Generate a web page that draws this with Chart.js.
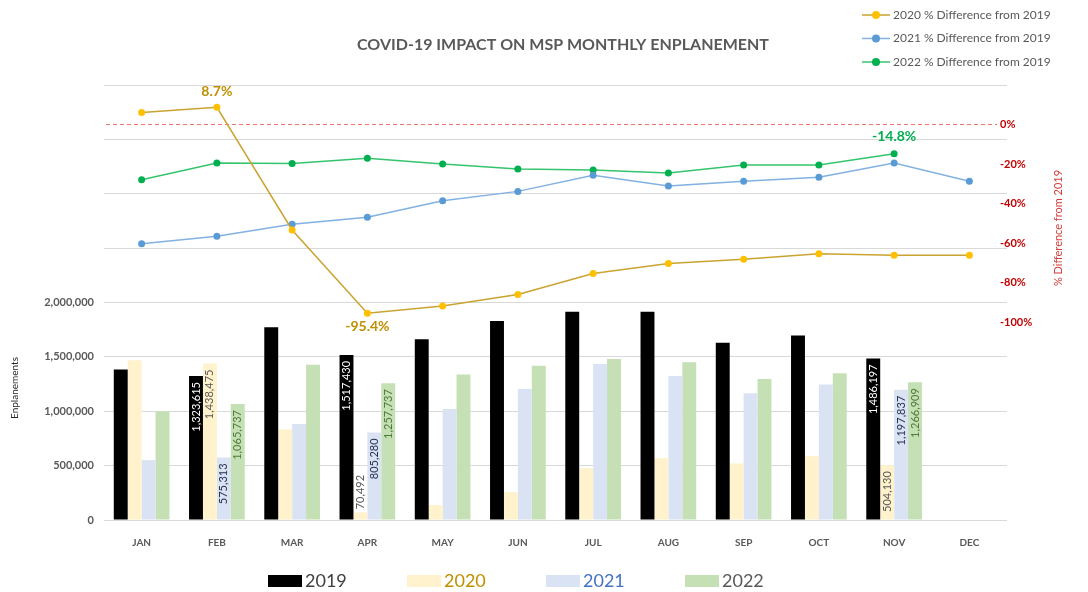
<!DOCTYPE html>
<html>
<head>
<meta charset="utf-8">
<script src="https://cdn.jsdelivr.net/npm/chart.js@4.4.1/dist/chart.umd.min.js"></script>
<style>
  html, body { margin: 0; padding: 0; background: #fff; }
  #wrap { position: relative; width: 1088px; height: 592px; }
</style>
</head>
<body>
<div id="wrap"><canvas id="grafico" width="1088" height="592"></canvas></div>
<script>
// months on the x axis
const months = ['JAN', 'FEB', 'MAR', 'APR', 'MAY', 'JUN', 'JUL', 'AUG', 'SEP', 'OCT', 'NOV', 'DEC'];

// monthly enplanements (bars, left axis)
const enpl2019 = [1385000, 1323615, 1773000, 1517430, 1661000, 1829000, 1915000, 1915000, 1630000, 1697000, 1486197, null];
const enpl2020 = [1468000, 1438475, 832000, 70492, 137000, 257000, 477000, 569000, 520000, 587000, 504130, null];
const enpl2021 = [550000, 575313, 883000, 805280, 1021000, 1205000, 1434000, 1324000, 1165000, 1245000, 1197837, null];
const enpl2022 = [1000000, 1065737, 1428000, 1257737, 1337000, 1419000, 1480000, 1450000, 1296000, 1349000, 1266909, null];

// % difference from 2019 (lines, right axis)
const pct2020 = [6.1, 8.7, -53.3, -95.4, -91.8, -86.0, -75.3, -70.3, -68.1, -65.4, -66.1, -66.1];
const pct2021 = [-60.3, -56.5, -50.4, -46.9, -38.5, -33.8, -25.7, -31.1, -28.7, -26.7, -19.4, -28.7];
const pct2022 = [-27.9, -19.5, -19.7, -17.1, -19.9, -22.5, -23.0, -24.5, -20.5, -20.5, -14.8, null];

// axis ranges and the part of each axis that carries labels
const leftMax = 4000000, leftStep = 500000, leftLabelMax = 2000000;
const rightMin = -200, rightMax = 20, rightStep = 20;
const rightLabelRange = [-100, 0];

// months whose bars carry value labels
const labeledMonths = ['FEB', 'APR', 'NOV'];

const FONT = 'Lato, "Open Sans", sans-serif';
const GRAY = '#595959';

const barColors = ['#000000', '#fff2cc', '#dae3f3', '#c5e0b4'];
const barLabelColors = ['#ffffff', '#595959', '#1f2d4d', '#4e7a3a'];
const barLegendText = ['#404040', '#bf9000', '#4472c4', '#595959'];

const callouts = [
    { ds: 4, month: 'FEB', dy: -16, color: '#bf9000' },
    { ds: 4, month: 'APR', dy: 13, color: '#bf9000' },
    { ds: 6, month: 'NOV', dy: -17, color: '#00b050' }
];

const extras = {
    id: 'extras',
    beforeDatasetsDraw(chart) {
        const { ctx, chartArea } = chart;
        const y0 = chart.scales.y1.getPixelForValue(0);
        ctx.save();
        ctx.strokeStyle = '#f07070';
        ctx.lineWidth = 1;
        ctx.setLineDash([4, 3]);
        ctx.beginPath();
        ctx.moveTo(chartArea.left + 2, y0);
        ctx.lineTo(chartArea.right - 10, y0);
        ctx.stroke();
        ctx.restore();
    },
    afterDatasetsDraw(chart) {
        const ctx = chart.ctx;
        ctx.save();
        // bar value labels, rotated
        ctx.font = '11px ' + FONT;
        ctx.textBaseline = 'middle';
        for (let d = 0; d < 4; d++) {
            const meta = chart.getDatasetMeta(d);
            const data = chart.data.datasets[d].data;
            labeledMonths.forEach(function (m) {
                const i = months.indexOf(m);
                const el = meta.data[i];
                const v = data[i];
                if (v == null) return;
                const text = v.toLocaleString('en-US');
                const w = ctx.measureText(text).width;
                const h = el.base - el.y;
                ctx.save();
                ctx.translate(el.x, el.y);
                ctx.rotate(-Math.PI / 2);
                if (w + 10 < h) {
                    ctx.fillStyle = barLabelColors[d];
                    ctx.textAlign = 'right';
                    ctx.fillText(text, -6, 0);
                } else {
                    ctx.fillStyle = '#595959';
                    ctx.textAlign = 'left';
                    ctx.fillText(text, 3, 0);
                }
                ctx.restore();
            });
        }
        // line callouts
        ctx.font = 'bold 14px ' + FONT;
        ctx.textAlign = 'center';
        callouts.forEach(function (c) {
            const i = months.indexOf(c.month);
            const el = chart.getDatasetMeta(c.ds).data[i];
            const v = chart.data.datasets[c.ds].data[i];
            ctx.fillStyle = c.color;
            ctx.fillText(v.toFixed(1) + '%', el.x, el.y + c.dy);
        });
        ctx.restore();
    },
    afterDraw(chart) {
        const ctx = chart.ctx;
        const ds = chart.data.datasets;
        ctx.save();
        // title
        ctx.font = 'bold 16px ' + FONT;
        ctx.fillStyle = GRAY;
        ctx.textAlign = 'center';
        ctx.textBaseline = 'middle';
        ctx.fillText('COVID-19 IMPACT ON MSP MONTHLY ENPLANEMENT', 563, 45);

        // right axis tick labels, placed from the y1 scale
        const y1 = chart.scales.y1;
        ctx.font = 'bold 11px ' + FONT;
        ctx.fillStyle = '#c00000';
        ctx.textAlign = 'left';
        y1.ticks.forEach(function (t) {
            if (t.value < rightLabelRange[0] || t.value > rightLabelRange[1]) return;
            ctx.fillText(t.value + '%', 1000, y1.getPixelForValue(t.value));
        });
        ctx.textAlign = 'center';

        // axis titles
        ctx.save();
        ctx.translate(15, 388);
        ctx.rotate(-Math.PI / 2);
        ctx.font = '10px ' + FONT;
        ctx.fillStyle = '#262626';
        ctx.fillText('Enplanements', 0, 0);
        ctx.restore();
        ctx.save();
        ctx.translate(1058, 228);
        ctx.rotate(-Math.PI / 2);
        ctx.font = '11px ' + FONT;
        ctx.fillStyle = '#d63a3a';
        ctx.fillText('% Difference from 2019', 0, 0);
        ctx.restore();

        // top legend for the lines
        ctx.textAlign = 'left';
        ctx.font = '12px ' + FONT;
        [4, 5, 6].forEach(function (d, k) {
            const y = 15 + k * 23.5;
            ctx.strokeStyle = ds[d].borderColor;
            ctx.lineWidth = 1.5;
            ctx.beginPath();
            ctx.moveTo(862, y);
            ctx.lineTo(890, y);
            ctx.stroke();
            ctx.fillStyle = ds[d].pointBackgroundColor;
            ctx.beginPath();
            ctx.arc(876, y, 4, 0, Math.PI * 2);
            ctx.fill();
            ctx.fillStyle = GRAY;
            ctx.fillText(ds[d].label, 893, y);
        });

        // bottom legend for the bars
        ctx.font = '18px ' + FONT;
        for (let d = 0; d < 4; d++) {
            const x = 268 + d * 139;
            ctx.fillStyle = barColors[d];
            ctx.fillRect(x, 575, 34, 12);
            ctx.fillStyle = barLegendText[d];
            ctx.fillText(ds[d].label, x + 37, 581);
        }
        ctx.restore();
    }
};

function barSet(label, data, i) {
    return {
        type: 'bar', label: label, data: data, yAxisID: 'y',
        backgroundColor: barColors[i], borderWidth: 0, order: 2
    };
}

function lineSet(label, data, line, point) {
    return {
        type: 'line', label: label, data: data, yAxisID: 'y1',
        borderColor: line, backgroundColor: point, pointBackgroundColor: point,
        pointBorderWidth: 0, pointRadius: 3.5, borderWidth: 1.5,
        tension: 0, spanGaps: false, order: 1
    };
}

const ctx = document.getElementById('grafico').getContext('2d');
const grafico = new Chart(ctx, {
    data: {
        labels: months,
        datasets: [
            barSet('2019', enpl2019, 0),
            barSet('2020', enpl2020, 1),
            barSet('2021', enpl2021, 2),
            barSet('2022', enpl2022, 3),
            lineSet('2020 % Difference from 2019', pct2020, '#cba32f', '#ffc000'),
            lineSet('2021 % Difference from 2019', pct2021, '#82b1e2', '#5b9bd5'),
            lineSet('2022 % Difference from 2019', pct2022, '#34c46c', '#00b050')
        ]
    },
    options: {
        responsive: false,
        animation: false,
        layout: { padding: { top: 85, right: 0, bottom: 0, left: 0 } },
        datasets: { bar: { categoryPercentage: 0.74, barPercentage: 1.0 } },
        plugins: { legend: { display: false }, tooltip: { enabled: false } },
        scales: {
            x: {
                grid: { display: false },
                border: { display: false },
                ticks: { color: GRAY, font: { family: FONT, size: 10, weight: 'bold' }, padding: 9 },
                afterFit: function (s) { s.height = 72; }
            },
            y: {
                position: 'left',
                min: 0, max: leftMax,
                grid: { color: '#d9d9d9', drawTicks: false },
                border: { display: false },
                ticks: {
                    stepSize: leftStep, padding: 10, color: GRAY,
                    font: { family: FONT, size: 11, weight: 'bold' },
                    callback: function (v) { return v > leftLabelMax ? '' : v.toLocaleString('en-US'); }
                },
                afterFit: function (s) { s.width = 104; }
            },
            y1: {
                position: 'right',
                min: rightMin, max: rightMax,
                grid: { display: false, drawTicks: false },
                border: { display: false },
                ticks: { stepSize: rightStep, display: false },
                afterFit: function (s) { s.width = 81; }
            }
        }
    },
    plugins: [extras]
});
</script>
</body>
</html>
